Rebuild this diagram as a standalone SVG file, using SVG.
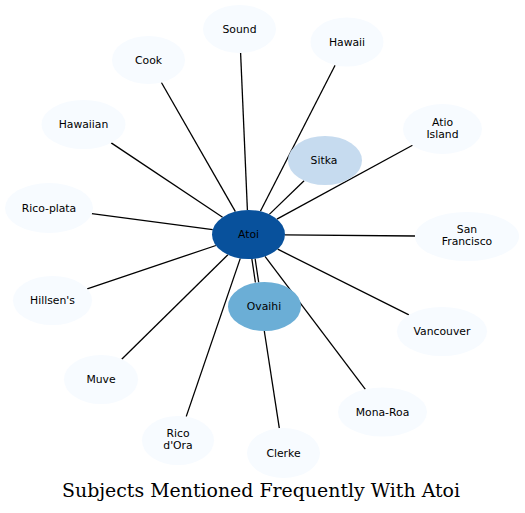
<svg xmlns="http://www.w3.org/2000/svg" width="525" height="513" viewBox="0 0 525 513">
<style>
.n{fill:#f7fbff;stroke:none}
.t{font-family:"DejaVu Sans",sans-serif;font-size:10.8px;fill:#000;text-anchor:middle}
.e line{stroke:#000;stroke-width:1.3}
.title{font-family:"DejaVu Serif",serif;font-size:19px;fill:#000;text-anchor:middle}
</style>
<rect width="525" height="513" fill="#fff"/>
<g id="edges" class="e">
<line x1="247.4" y1="210" x2="240.6" y2="53"/>
<line x1="235.4" y1="211.6" x2="161.4" y2="82.5"/>
<line x1="222.6" y1="217.2" x2="111.2" y2="142.9"/>
<line x1="260.4" y1="211.3" x2="335.1" y2="65.2"/>
<line x1="276.9" y1="219.1" x2="412.5" y2="145.3"/>
<line x1="269.3" y1="214.4" x2="304.1" y2="180.7"/>
<line x1="285" y1="234.8" x2="415" y2="236"/>
<line x1="277.7" y1="249.2" x2="408.9" y2="314.9"/>
<line x1="265" y1="256.4" x2="365.4" y2="389.4"/>
<line x1="212.7" y1="229.7" x2="91.8" y2="213.7"/>
<line x1="215.9" y1="245.5" x2="87.2" y2="288.8"/>
<line x1="251.8" y1="258.5" x2="255.4" y2="282.5"/>
<line x1="255.1" y1="258.5" x2="258.7" y2="282.5"/>
<line x1="227.9" y1="254.7" x2="121.7" y2="359.2"/>
<line x1="240.3" y1="258.4" x2="186.2" y2="416.6"/>
<line x1="264.3" y1="331" x2="279.3" y2="428.2"/>
</g>
<g id="node-sound"><ellipse class="n" cx="239.5" cy="29" rx="36.5" ry="24"/><text class="t" x="239.5" y="32.6">Sound</text></g>
<g id="node-cook"><ellipse class="n" cx="148.5" cy="60" rx="36.5" ry="24"/><text class="t" x="148.5" y="63.6">Cook</text></g>
<g id="node-hawaiian"><ellipse class="n" cx="83.5" cy="124.5" rx="42" ry="24.5"/><text class="t" x="83.5" y="128.2">Hawaiian</text></g>
<g id="node-hawaii"><ellipse class="n" cx="347" cy="42" rx="36.5" ry="24.5"/><text class="t" x="347" y="45.6">Hawaii</text></g>
<g id="node-atio-island"><ellipse class="n" cx="442.5" cy="129" rx="39.5" ry="25"/><text class="t" x="442.5" y="126.3">Atio</text><text class="t" x="442.5" y="138.2">Island</text></g>
<g id="node-sitka"><ellipse cx="325" cy="160.5" rx="37" ry="24.5" fill="#c6dbef"/><text class="t" x="324" y="164">Sitka</text></g>
<g id="node-san-francisco"><ellipse class="n" cx="467" cy="236.5" rx="52" ry="24.5"/><text class="t" x="467" y="233">San</text><text class="t" x="467" y="245">Francisco</text></g>
<g id="node-vancouver"><ellipse class="n" cx="442" cy="331.5" rx="45" ry="24.5"/><text class="t" x="442" y="335">Vancouver</text></g>
<g id="node-mona-roa"><ellipse class="n" cx="382.5" cy="412" rx="44.5" ry="24.5"/><text class="t" x="382.5" y="415.5">Mona-Roa</text></g>
<g id="node-rico-plata"><ellipse class="n" cx="49" cy="208" rx="44" ry="25"/><text class="t" x="49" y="211.5">Rico-plata</text></g>
<g id="node-hillsens"><ellipse class="n" cx="52.5" cy="300.5" rx="39.5" ry="24.5"/><text class="t" x="52.5" y="304">Hillsen's</text></g>
<g id="node-atoi"><ellipse cx="248.5" cy="234.5" rx="36.5" ry="24.5" fill="#08519c"/><text class="t" x="248.5" y="238">Atoi</text></g>
<g id="node-ovaihi"><ellipse cx="264.5" cy="306.5" rx="36.5" ry="24.5" fill="#6baed6"/><text class="t" x="264" y="310">Ovaihi</text></g>
<g id="node-muve"><ellipse class="n" cx="101" cy="379.5" rx="37" ry="24.5"/><text class="t" x="101" y="383">Muve</text></g>
<g id="node-rico-dora"><ellipse class="n" cx="178" cy="440.5" rx="36" ry="24.5"/><text class="t" x="178" y="437">Rico</text><text class="t" x="178" y="449">d'Ora</text></g>
<g id="node-clerke"><ellipse class="n" cx="283.5" cy="453" rx="36.5" ry="25"/><text class="t" x="283.5" y="456.5">Clerke</text></g>
<text class="title" x="261" y="497" textLength="398" lengthAdjust="spacingAndGlyphs">Subjects Mentioned Frequently With Atoi</text>
</svg>
